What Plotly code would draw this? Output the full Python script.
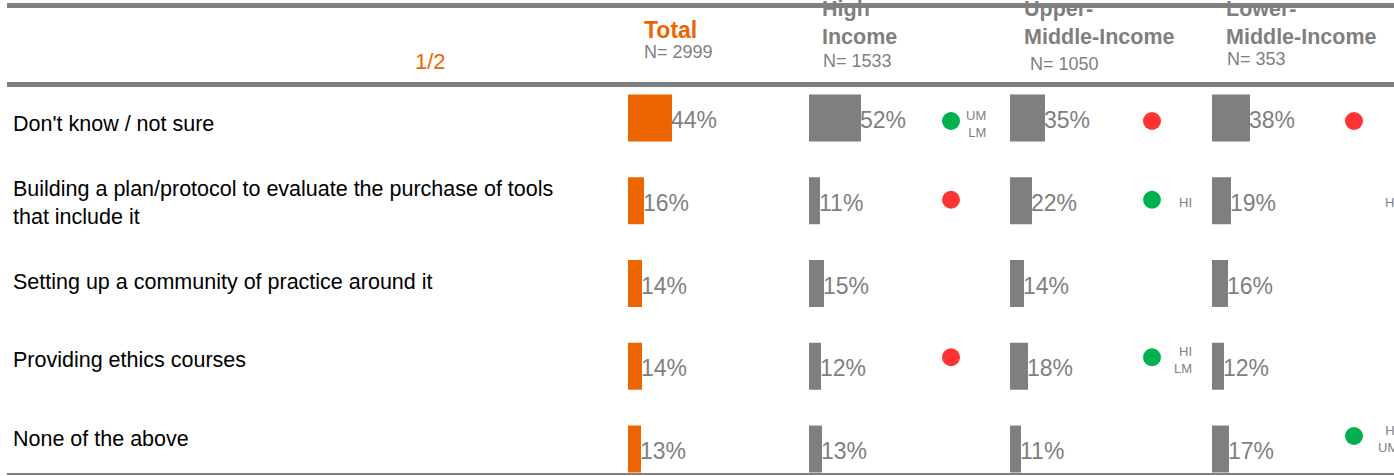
import plotly.graph_objects as go

W, H = 1394, 476

# ---- data -------------------------------------------------------------
categories = [
    "Don't know / not sure",
    "Building a plan/protocol to evaluate the purchase of tools<br>that include it",
    "Setting up a community of practice around it",
    "Providing ethics courses",
    "None of the above",
]
group_titles = ["Total", "High<br>Income", "Upper-<br>Middle-Income", "Lower-<br>Middle-Income"]
group_n = [2999, 1533, 1050, 353]

total = [44, 16, 14, 14, 13]
high_income = [52, 11, 15, 12, 13]
upper_middle = [35, 22, 14, 18, 11]
lower_middle = [38, 19, 16, 12, 17]

# significance flags vs the other income groups: 1 higher, -1 lower, 0 none
hi_sig = [1, -1, 0, -1, 0]
hi_vs = ["UM<br>LM", "", "", "", ""]
um_sig = [-1, 1, 0, 1, 0]
um_vs = ["", "HI", "", "HI<br>LM", ""]
lm_sig = [-1, 0, 0, 0, 1]
lm_vs = ["", "HI", "", "", "HI<br>UM"]

page_label = "1/2"

# ---- styling / layout constants ----------------------------------------
FONT = "Liberation Sans, Arial, sans-serif"
ORANGE = "#EC6600"
GREY = "#7F7F7F"
GREEN = "#00B050"
RED = "#FF3333"

PANEL_X = [628, 809, 1010, 1212, W]      # left edge of each panel (px)
ROW0, ROW_STEP = 118, 82.75              # bar row centres (px)
BAR_PX = 47
LABEL0, LABEL_STEP = 124, 78.75          # left-hand label rows (px)
DOT_DX = 142
VS_DX = [37, 42, 46]


def px_to_row(py):
    return (py - ROW0) / ROW_STEP


def px_x(px):
    return px / W


def px_y(py):
    return 1 - py / H


fig = go.Figure()

series = [total, high_income, upper_middle, lower_middle]
colors = [ORANGE, GREY, GREY, GREY]
rows = list(range(len(categories)))

for k, (vals, col) in enumerate(zip(series, colors)):
    xa = "x" if k == 0 else f"x{k + 1}"
    fig.add_trace(go.Bar(
        x=vals, y=rows, orientation="h", width=BAR_PX / ROW_STEP,
        marker=dict(color=col, line=dict(width=0)),
        xaxis=xa, yaxis="y", showlegend=False, hoverinfo="skip",
    ))
    # value labels start right at the end of each bar
    for r, v in zip(rows, vals):
        fig.add_annotation(
            x=v, y=r, xref=xa, yref="y", xanchor="left", yanchor="middle",
            xshift=-3, yshift=-2, text=f"{v}%", showarrow=False,
            font=dict(size=23, color=GREY, family=FONT),
        )

# significance dots
for k, (sig, vs) in enumerate([(hi_sig, hi_vs), (um_sig, um_vs), (lm_sig, lm_vs)]):
    xa = f"x{k + 2}"
    dx, dy, dc = [], [], []
    for i, s in enumerate(sig):
        label_py = LABEL0 + i * LABEL_STEP
        if s != 0:
            dx.append(DOT_DX)
            dy.append(px_to_row(label_py - 3))
            dc.append(GREEN if s > 0 else RED)
        if vs[i]:
            fig.add_annotation(
                x=px_x(PANEL_X[k + 1] + DOT_DX + VS_DX[k]), y=px_y(label_py),
                xref="paper", yref="paper", xanchor="right", yanchor="middle",
                text=vs[i], align="right", showarrow=False,
                font=dict(size=13, color=GREY, family=FONT),
            )
    fig.add_trace(go.Scatter(
        x=dx, y=dy, mode="markers", xaxis=xa, yaxis="y",
        marker=dict(size=18, color=dc, line=dict(width=0)),
        showlegend=False, hoverinfo="skip", cliponaxis=False,
    ))

# row labels
for i, cat in enumerate(categories):
    fig.add_annotation(
        x=px_x(11), y=px_y(LABEL0 + i * LABEL_STEP), xref="paper", yref="paper",
        xanchor="left", yanchor="middle", align="left", text=cat, showarrow=False,
        font=dict(size=21.5, color="black", family=FONT),
    )

# headers
fig.add_annotation(x=px_x(430), y=px_y(62), xref="paper", yref="paper",
                   xanchor="center", yanchor="middle",
                   text=page_label, showarrow=False,
                   font=dict(size=22, color=ORANGE, family=FONT))
fig.add_annotation(x=px_x(642), y=px_y(30), xref="paper", yref="paper",
                   xanchor="left", yanchor="middle", text=f"<b>{group_titles[0]}</b>",
                   showarrow=False, font=dict(size=23, color=ORANGE, family=FONT))

n_pos = [(642, 52), (821, 61), (1028, 64), (1225, 59)]
for (nx, ny), n in zip(n_pos, group_n):
    fig.add_annotation(x=px_x(nx), y=px_y(ny), xref="paper", yref="paper",
                       xanchor="left", yanchor="middle", text=f"N= {n}",
                       showarrow=False, font=dict(size=18, color=GREY, family=FONT))

# income-group titles sit under the top rule, so they are drawn as a text trace
fig.add_trace(go.Scatter(
    x=[822, 1024, 1226], y=[25, 25, 25], mode="text",
    text=[f"<b>{t}</b>" for t in group_titles[1:]], textposition="middle right",
    textfont=dict(size=21.5, color=GREY, family=FONT),
    xaxis="x5", yaxis="y5", showlegend=False, hoverinfo="skip", cliponaxis=False,
))

# rules
for y0, y1 in [(3, 8), (82, 87), (473, 475)]:
    fig.add_shape(type="rect", xref="paper", yref="paper", layer="above",
                  x0=px_x(7), x1=1, y0=px_y(y1), y1=px_y(y0),
                  fillcolor="#808080", line=dict(width=0))

axis_off = dict(visible=False, showgrid=False, zeroline=False, fixedrange=True)
layout_axes = {}
for k in range(4):
    name = "xaxis" if k == 0 else f"xaxis{k + 1}"
    layout_axes[name] = dict(
        domain=[PANEL_X[k] / W, PANEL_X[k + 1] / W],
        range=[0, PANEL_X[k + 1] - PANEL_X[k]], anchor="y", **axis_off)
layout_axes["yaxis"] = dict(domain=[0, 1], range=[px_to_row(H), px_to_row(0)], **axis_off)
layout_axes["xaxis5"] = dict(domain=[0, 1], range=[0, W], anchor="y5", **axis_off)
layout_axes["yaxis5"] = dict(domain=[0, 1], range=[H, 0], anchor="x5", **axis_off)

fig.update_layout(
    width=W, height=H, margin=dict(l=0, r=0, t=0, b=0),
    paper_bgcolor="white", plot_bgcolor="rgba(0,0,0,0)",
    font=dict(family=FONT), barmode="overlay",
    **layout_axes,
)

fig.write_html("out.html", config={"displayModeBar": False})
